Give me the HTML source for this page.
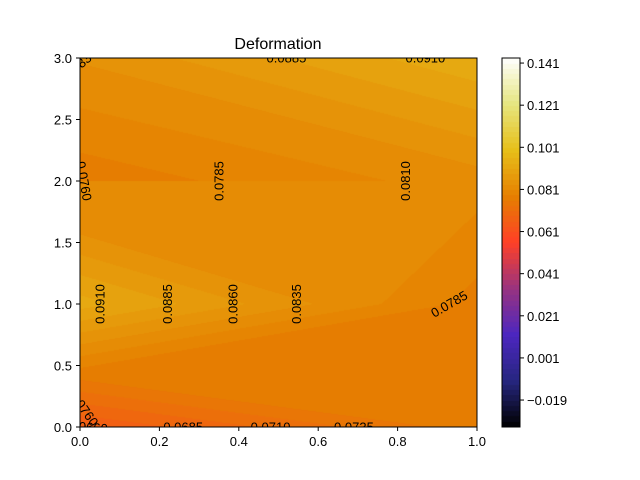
<!DOCTYPE html>
<html><head><meta charset="utf-8"><style>
body{margin:0;background:#fff;width:640px;height:480px;overflow:hidden;font-family:"Liberation Sans","DejaVu Sans",sans-serif}
#wrap{position:relative;width:640px;height:480px}
canvas{position:absolute}
svg{position:absolute;left:0;top:0}
</style></head><body>
<div id="wrap">
<canvas id="plot" width="397" height="369" style="left:80px;top:58px"></canvas>
<canvas id="cbar" width="18" height="369" style="left:502px;top:58px"></canvas>
<svg id="svg" width="640" height="480"></svg>
</div>
<script>
// Data: node values on grid x in {0,1}, y in {0,1,2,3}
const xNodes = [0, 1];
const yNodes = [0, 1, 2, 3];
const leftValues = [0.0657, 0.0918, 0.0766, 0.0835];
const rightValues = [0.0770, 0.0772, 0.0819, 0.0928];
const xTicks = [0.0, 0.2, 0.4, 0.6, 0.8, 1.0];
const yTicks = [0.0, 0.5, 1.0, 1.5, 2.0, 2.5, 3.0];
const cbarTicks = [-0.019, 0.001, 0.021, 0.041, 0.061, 0.081, 0.101, 0.121, 0.141];
const labelTexts = ["0.0910","0.0885","0.0860","0.0835","0.0785","0.0810","0.0785","0.0760","0.0760","0.0835","0.0885","0.0910","0.0660","0.0685","0.0710","0.0735"];
const labelX = [0.05,0.22,0.385,0.545,0.35,0.82,0.93,0.01,0.01,0.0,0.52,0.87,0.02,0.26,0.48,0.69];
const labelY = [1.0,1.0,1.0,1.0,2.0,2.0,1.0,2.0,0.15,2.95,3.0,3.0,0.0,0.0,0.0,0.0];
const labelRot = [-90,-90,-90,-90,-90,-90,-30,80,55,-40,0,0,5,0,0,0];

const vmin=-0.0318, vmax=0.1434, step=0.0025;
const PX0=80, PY0=58, PW=397, PH=369;
const xs = v => PX0 + v*PW;
const ys = v => PY0 + PH - v/3*PH;
const cy = v => PY0 + PH - (v - vmin)/(vmax - vmin)*PH;

const cm=[[0,0,0,0],[0.125,.15,.15,.5],[0.25,.3,.15,.75],[0.375,.6,.2,.5],[0.5,1,.25,.15],[0.625,.9,.5,0],[0.75,.9,.75,.1],[0.875,.9,.9,.5],[1,1,1,1]];
function cmap(t){t=Math.max(0,Math.min(1,t));for(let i=0;i<cm.length-1;i++){const a=cm[i],b=cm[i+1];if(t<=b[0]){const f=(t-a[0])/(b[0]-a[0]);return [0,1,2].map(k=>Math.round(255*(a[k+1]+f*(b[k+1]-a[k+1]))));}}return [255,255,255];}
function levelIdxColor(l){const mid=vmin+(l+0.5)*step;return cmap((mid-vmin)/(vmax-vmin));}
// marching-squares style: isolines are straight segments between edge crossings
function aboveLevel(L,x,y,a,b,d,c){
  const P=[[0,0,a],[1,0,b],[1,1,d],[0,1,c]];const pts=[];
  for(let i=0;i<4;i++){const p=P[i],q=P[(i+1)%4];
    if((p[2]-L)*(q[2]-L)<0){const t=(L-p[2])/(q[2]-p[2]);pts.push([p[0]+t*(q[0]-p[0]),p[1]+t*(q[1]-p[1])]);}}
  if(pts.length<2) return a>=L;
  const [p,q]=pts;const side=(px,py)=>(q[0]-p[0])*(py-p[1])-(q[1]-p[1])*(px-p[0]);
  // find a corner not on the line to reference
  let ref=P[0];for(const k of P){if(Math.abs(side(k[0],k[1]))>1e-9){ref=k;break;}}
  const same=side(x,y)*side(ref[0],ref[1])>=0;
  return same?ref[2]>=L:ref[2]<L;
}
function levelAt(x,y){
  let j=Math.min(2,Math.floor(y));const fy=y-j;
  const a=leftValues[j],b=rightValues[j],c=leftValues[j+1],d=rightValues[j+1];
  const lo=Math.min(a,b,c,d),hi=Math.max(a,b,c,d);
  let l=Math.floor((lo-vmin)/step);const lmax=Math.floor((hi-vmin)/step);
  while(l<lmax && aboveLevel(vmin+(l+1)*step,x,fy,a,b,d,c)) l++;
  return l;
}
const ctx=document.getElementById('plot').getContext('2d');
const img=ctx.createImageData(PW,PH);
for(let py=0;py<PH;py++)for(let px=0;px<PW;px++){
  const x=(px+0.5)/PW,y=3*(1-(py+0.5)/PH);
  const c=levelIdxColor(levelAt(x,y));const i=(py*PW+px)*4;
  img.data[i]=c[0];img.data[i+1]=c[1];img.data[i+2]=c[2];img.data[i+3]=255;
}
ctx.putImageData(img,0,0);
const cc=document.getElementById('cbar').getContext('2d');
for(let py=0;py<PH;py++){const v=vmax-(py+0.5)/PH*(vmax-vmin);const c=levelIdxColor(Math.floor((v-vmin)/step));cc.fillStyle=`rgb(${c})`;cc.fillRect(0,py,18,1);}

const svg=document.getElementById('svg');const NS='http://www.w3.org/2000/svg';
function mk(tag,attrs,text){const e=document.createElementNS(NS,tag);for(const k in attrs)e.setAttribute(k,attrs[k]);if(text!==undefined)e.textContent=text;svg.appendChild(e);return e;}
let e;
const cp=mk('clipPath',{id:'clipP'});
const cr=document.createElementNS(NS,'rect');
cr.setAttribute('x',PX0);cr.setAttribute('y',PY0);cr.setAttribute('width',PW);cr.setAttribute('height',PH);
cp.appendChild(cr);
const g=document.createElementNS(NS,'g');g.setAttribute('clip-path','url(#clipP)');
svg.appendChild(g);
labelTexts.forEach((s,i)=>{const X=xs(labelX[i]),Y=ys(labelY[i]);
  const t=document.createElementNS(NS,'text');
  t.setAttribute('x',X);t.setAttribute('y',Y);t.setAttribute('font-size',13);
  t.setAttribute('text-anchor','middle');t.setAttribute('dominant-baseline','central');
  t.setAttribute('transform',`rotate(${labelRot[i]} ${X} ${Y})`);t.textContent=s;
  
  
  g.appendChild(t);});
e=mk('rect',{x:PX0,y:PY0,width:PW,height:PH,fill:'none',stroke:'#000','stroke-width':1});


e=mk('rect',{x:502,y:58,width:18,height:369,fill:'none',stroke:'#000','stroke-width':1});


e=mk('text',{x:278,y:49,'text-anchor':'middle','font-size':16},'Deformation');


xTicks.forEach(t=>{const X=xs(t);
  e=mk('line',{x1:X,x2:X,y1:427,y2:431,stroke:'#000'});
  
  
  e=mk('text',{x:X,y:446,'text-anchor':'middle','font-size':13},t.toFixed(1));
  
  });
yTicks.forEach(t=>{const Y=ys(t);
  e=mk('line',{x1:76,x2:80,y1:Y,y2:Y,stroke:'#000'});
  
  
  e=mk('text',{x:72,y:Y+5,'text-anchor':'end','font-size':13},t.toFixed(1));
  
  });
cbarTicks.forEach(t=>{const Y=cy(t);
  e=mk('line',{x1:520,x2:524,y1:Y,y2:Y,stroke:'#000'});
  
  
  e=mk('text',{x:527,y:Y+5,'font-size':13},(t<0?'\u2212':'')+Math.abs(t).toFixed(3));
  
  });
</script>
</body></html>
